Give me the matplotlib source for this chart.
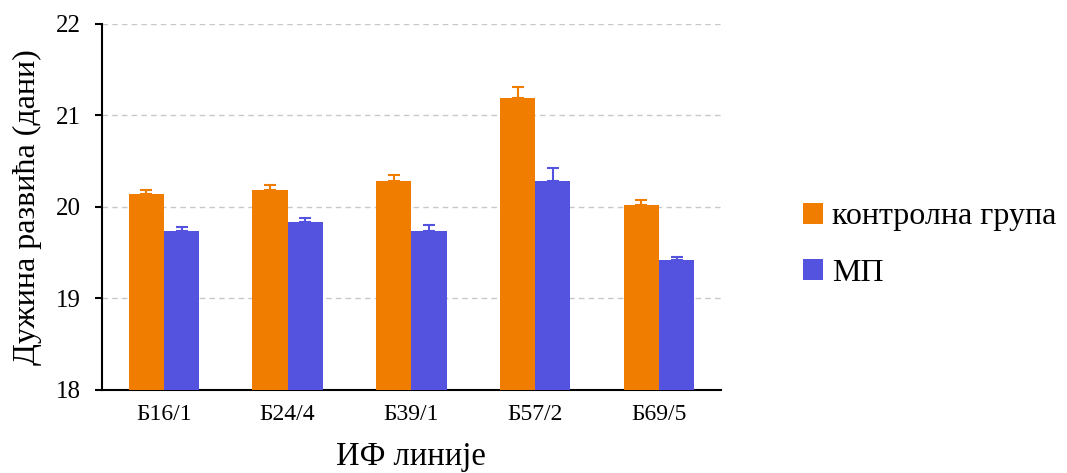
import numpy as np
import matplotlib
matplotlib.use("Agg")
import matplotlib.pyplot as plt

plt.rcParams['font.family'] = ['Liberation Serif', 'DejaVu Serif']

lines = ["Б16/1", "Б24/4", "Б39/1", "Б57/2", "Б69/5"]
control = [20.14, 20.19, 20.28, 21.19, 20.02]
control_err = [0.05, 0.05, 0.07, 0.12, 0.06]
mp = [19.74, 19.83, 19.74, 20.28, 19.42]
mp_err = [0.04, 0.05, 0.06, 0.14, 0.03]

orange = "#F07D00"
blue = "#5353E0"

fig = plt.figure(figsize=(10.67, 4.73), dpi=100)
ax = fig.add_axes([0.0956, 0.1755, 0.58, 0.774])

x = np.arange(len(lines))
w = 0.285
ax.bar(x - w / 2, control, w, color=orange, label="контролна група", zorder=3)
ax.bar(x + w / 2, mp, w, color=blue, label="МП", zorder=3)
ax.errorbar(x - w / 2, control, yerr=[np.zeros(5), control_err], fmt="none",
            ecolor=orange, capsize=4, elinewidth=1.5, capthick=1.5, zorder=4)
ax.errorbar(x + w / 2, mp, yerr=[np.zeros(5), mp_err], fmt="none",
            ecolor=blue, capsize=4, elinewidth=1.5, capthick=1.5, zorder=4)

ax.set_ylim(18, 22)
ax.set_xlim(-0.5, 4.5)
ax.set_yticks([18, 19, 20, 21, 22])
ax.set_xticks(x)
ax.set_xticklabels(lines)
ax.tick_params(axis="y", length=5, width=1.5, labelsize=18, pad=10)
ax.tick_params(axis="x", length=0, labelsize=17, pad=10)
ax.yaxis.grid(True, linestyle=(0, (4, 3)), color="#c8c8c8", linewidth=1, zorder=0)
ax.spines["top"].set_visible(False)
ax.spines["right"].set_visible(False)
ax.spines["left"].set_linewidth(1.5)
ax.spines["bottom"].set_linewidth(1.5)

ax.set_ylabel("Дужина развића (дани)", fontsize=23, labelpad=10)
ax.set_xlabel("ИФ линије", fontsize=23.5, labelpad=12)

ax.legend(loc="center left", bbox_to_anchor=(0.7526, 0.482),
          bbox_transform=fig.transFigure, frameon=False, borderpad=0,
          borderaxespad=0, fontsize=23, handlelength=0.62, handleheight=0.62,
          handletextpad=0.3, labelspacing=0.85)

fig.savefig("out.png", dpi=100)
